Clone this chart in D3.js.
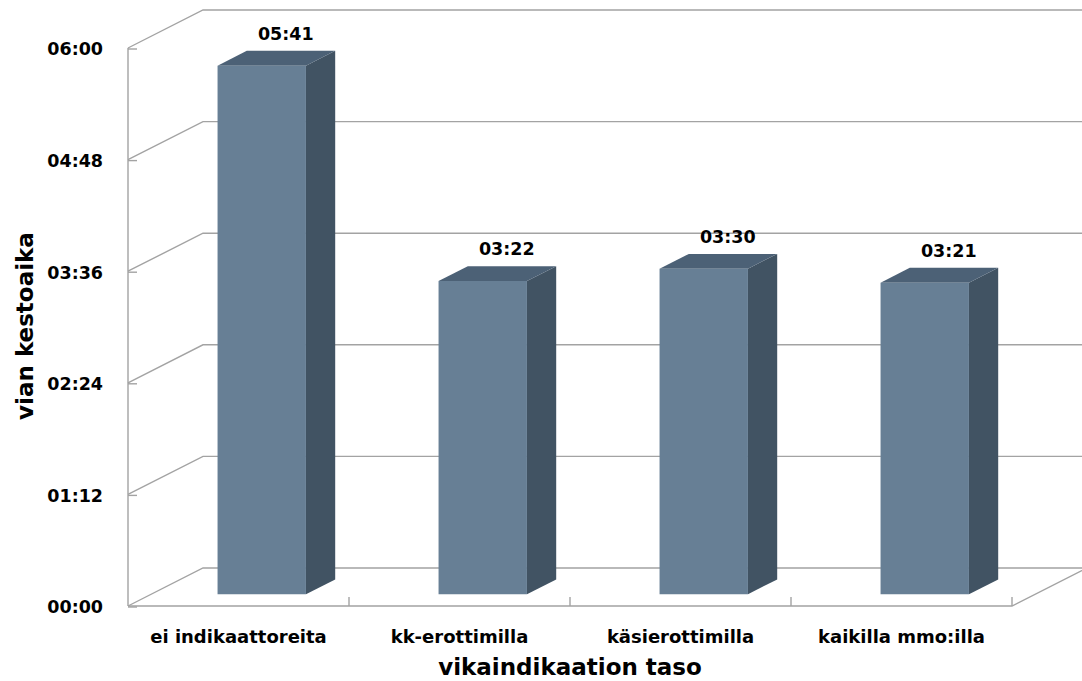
<!DOCTYPE html>
<html><head><meta charset="utf-8">
<script src="https://cdn.jsdelivr.net/npm/d3@7"></script>
<style>
html,body{margin:0;padding:0;background:#fff;}
svg{display:block;}
text{font-family:"DejaVu Sans",sans-serif;font-weight:bold;fill:#000;}
</style></head>
<body>
<svg id="chart" width="1082" height="681"></svg>
<script>
// ---- data ----
const categories = ["ei indikaattoreita", "kk-erottimilla", "käsierottimilla", "kaikilla mmo:illa"];
const values = [341, 202, 210, 201]; // minutes (05:41, 03:22, 03:30, 03:21)
const yTicks = [0, 72, 144, 216, 288, 360];
const yTitle = "vian kestoaika";
const xTitle = "vikaindikaation taso";

// ---- layout ----
const svg = d3.select("#chart");
const W = 1082;
const DX = 75, DY = -38;           // depth projection
const T0 = 0.31, T1 = 0.70;        // bar depth range (fraction)
const fmt = m => String(Math.floor(m / 60)).padStart(2, "0") + ":" + String(m % 60).padStart(2, "0");

const x = d3.scaleBand().domain(categories).range([128, 1012]).paddingInner(0).paddingOuter(0);
const y = d3.scaleLinear().domain([0, 360]).range([606, 48]);
const barW = x.bandwidth() * 0.4;
const P = (px, v, t) => [px + DX * t, y(v) + DY * t];

const grid = svg.append("g").attr("fill", "none").attr("stroke", "#a3a3a3").attr("stroke-width", 1.4);

// side wall diagonals + back wall horizontals
yTicks.forEach(v => {
  const a = P(x.range()[0], v, 0), b = P(x.range()[0], v, 1);
  grid.append("polyline").attr("points", [a, b, [W, b[1]]].map(p => p.join(",")).join(" "));
});
// floor: front edge + right diagonal
const f0 = P(x.range()[0], 0, 0), f1 = P(x.range()[1], 0, 0), f2 = P(x.range()[1], 0, 1);
grid.append("polyline").attr("points", [f0, f1, f2].map(p => p.join(",")).join(" "));
// left axis line
grid.append("line").attr("x1", x.range()[0]).attr("x2", x.range()[0]).attr("y1", y(360)).attr("y2", y(0));
// y ticks
yTicks.forEach(v => {
  grid.append("line").attr("x1", x.range()[0]).attr("x2", x.range()[0] + 9).attr("y1", y(v) + 1).attr("y2", y(v) + 1);
});
// category ticks
categories.forEach(c => {
  const bx = x(c) + x.bandwidth();
  grid.append("line").attr("x1", bx).attr("x2", bx).attr("y1", y(0)).attr("y2", y(0) - 9);
});

// y tick labels
svg.append("g").selectAll("text").data(yTicks).join("text")
  .attr("x", 103).attr("y", d => y(d) + 1).attr("dy", "0.36em")
  .attr("text-anchor", "end").attr("font-size", 17.5).text(fmt);

// bars
const data = categories.map((c, i) => ({ c, v: values[i] }));
const bars = svg.append("g").selectAll("g").data(data).join("g");
const poly = pts => pts.map(p => p.join(",")).join(" ");
bars.append("polygon") // side
  .attr("fill", "#415363")
  .attr("points", d => {
    const xr = x(d.c) + x.bandwidth() / 2 + barW / 2;
    return poly([P(xr, 0, T0), P(xr, d.v, T0), P(xr, d.v, T1), P(xr, 0, T1)]);
  });
bars.append("polygon") // top
  .attr("fill", "#4c6176")
  .attr("points", d => {
    const xl = x(d.c) + x.bandwidth() / 2 - barW / 2, xr = xl + barW;
    return poly([P(xl, d.v, T0), P(xr, d.v, T0), P(xr, d.v, T1), P(xl, d.v, T1)]);
  });
bars.append("polygon") // front
  .attr("fill", "#677f95")
  .attr("points", d => {
    const xl = x(d.c) + x.bandwidth() / 2 - barW / 2, xr = xl + barW;
    return poly([P(xl, 0, T0), P(xr, 0, T0), P(xr, d.v, T0), P(xl, d.v, T0)]);
  });
// data labels
bars.append("text")
  .attr("x", d => P(x(d.c) + x.bandwidth() / 2, d.v, T0)[0] + 24)
  .attr("y", d => P(x(d.c) + x.bandwidth() / 2, d.v, T0)[1] - 26)
  .attr("text-anchor", "middle").attr("font-size", 17.5)
  .text(d => fmt(d.v));

// category labels
svg.append("g").selectAll("text").data(categories).join("text")
  .attr("x", d => x(d) + x.bandwidth() / 2).attr("y", 643)
  .attr("text-anchor", "middle").attr("font-size", 18).text(d => d);

// axis titles
svg.append("text").attr("x", (x.range()[0] + x.range()[1]) / 2).attr("y", 675)
  .attr("text-anchor", "middle").attr("font-size", 23).text(xTitle);
svg.append("text").attr("transform", "translate(33,326) rotate(-90)")
  .attr("text-anchor", "middle").attr("font-size", 23).text(yTitle);
</script>
</body></html>
